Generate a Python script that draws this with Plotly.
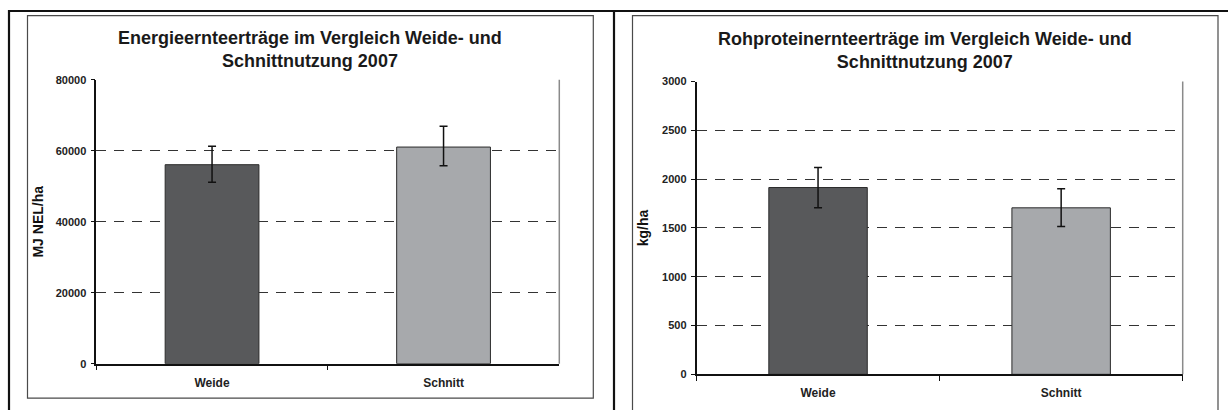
import plotly.graph_objects as go

W, H = 1228, 410

# ---------------- data ----------------
categories = ["Weide", "Schnitt"]
energy_values = [56080, 61050]
energy_err_plus = [5200, 5850]
energy_err_minus = [4970, 5280]
protein_values = [1914, 1706]
protein_err_plus = [205, 195]
protein_err_minus = [208, 192]
energy_ticks = [0, 20000, 40000, 60000, 80000]
protein_ticks = [0, 500, 1000, 1500, 2000, 2500, 3000]
bar_colors = ["#58595b", "#a7a9ac"]

title_left = "Energieernteerträge im Vergleich Weide- und<br>Schnittnutzung 2007"
title_right = "Rohproteinernteerträge im Vergleich Weide- und<br>Schnittnutzung 2007"

FONT = "Liberation Sans, Arial, sans-serif"

# the captured picture maps page y to about 6 + 0.973*y; compensate
Y_OFF, Y_SCALE = 6.0, 0.973


def px_x(x):
    return x / W


def px_y(y):
    return 1 - ((y - Y_OFF) / Y_SCALE) / H


fig = go.Figure()

fig.add_trace(go.Bar(
    x=categories, y=energy_values, xaxis="x", yaxis="y",
    marker=dict(color=bar_colors, line=dict(color="#2b2b2b", width=1)),
    error_y=dict(type="data", symmetric=False, array=energy_err_plus,
                 arrayminus=energy_err_minus, color="#111111", thickness=1.5, width=4),
    showlegend=False, hoverinfo="x+y",
))
fig.add_trace(go.Bar(
    x=categories, y=protein_values, xaxis="x2", yaxis="y2",
    marker=dict(color=bar_colors, line=dict(color="#2b2b2b", width=1)),
    error_y=dict(type="data", symmetric=False, array=protein_err_plus,
                 arrayminus=protein_err_minus, color="#111111", thickness=1.5, width=4),
    showlegend=False, hoverinfo="x+y",
))

tickfont = dict(family=FONT, size=11, color="#222222", weight="bold")
catfont = dict(family=FONT, size=12, color="#222222", weight="bold")
titlefont = dict(family=FONT, size=14, color="#111111", weight="bold")

common_x = dict(showline=True, linecolor="#111111", linewidth=1.5, ticks="outside",
                tickson="boundaries", ticklen=5, tickcolor="#111111", tickwidth=1,
                showgrid=False, tickfont=catfont, ticklabelstandoff=7, fixedrange=True)
common_y = dict(showline=True, linecolor="#111111", linewidth=1.5, ticks="outside",
                ticklen=4, tickcolor="#111111", tickwidth=1, showgrid=True,
                gridcolor="#333333", gridwidth=1.2, griddash="10px,8px", zeroline=False,
                tickfont=tickfont, ticklabelstandoff=2, tickformat="d", fixedrange=True)

# plot areas (pixel positions in the reference)
L = dict(x0=96.3, x1=559.3, y0=80.0, y1=364.5)
R = dict(x0=696.5, x1=1182.7, y0=81.7, y1=375.2)

fig.update_layout(
    width=W, height=H,
    margin=dict(l=0, r=0, t=0, b=0),
    paper_bgcolor="white", plot_bgcolor="white",
    bargap=0.595,
    xaxis=dict(domain=[px_x(L["x0"]), px_x(L["x1"])], anchor="y", **common_x),
    yaxis=dict(domain=[px_y(L["y1"]), px_y(L["y0"])], anchor="x",
               range=[0, 80000], tickvals=energy_ticks,
               title=dict(text="MJ NEL/ha", font=titlefont, standoff=9), **common_y),
    xaxis2=dict(domain=[px_x(R["x0"]), px_x(R["x1"])], anchor="y2", **common_x),
    yaxis2=dict(domain=[px_y(R["y1"]), px_y(R["y0"])], anchor="x2",
                range=[0, 3000], tickvals=protein_ticks,
                title=dict(text="kg/ha", font=titlefont, standoff=10), **common_y),
)

shapes = []
# outer black frame
shapes.append(dict(type="line", xref="paper", yref="paper", x0=px_x(8), x1=px_x(1228),
                   y0=px_y(11), y1=px_y(11), line=dict(color="#111111", width=2.2)))
for xx in (9, 614):
    shapes.append(dict(type="line", xref="paper", yref="paper", x0=px_x(xx), x1=px_x(xx),
                       y0=px_y(10), y1=px_y(420), line=dict(color="#111111", width=2.2)))
# inner chart frames
shapes.append(dict(type="rect", xref="paper", yref="paper", x0=px_x(27.5), x1=px_x(593.3),
                   y0=px_y(399), y1=px_y(15.7), line=dict(color="#4a4a4a", width=1.2)))
shapes.append(dict(type="rect", xref="paper", yref="paper", x0=px_x(632.5), x1=px_x(1218),
                   y0=px_y(425), y1=px_y(15.7), line=dict(color="#4a4a4a", width=1.2)))
# right border of plot areas (gray)
for xr, yr in (("x", "y"), ("x2", "y2")):
    shapes.append(dict(type="line", xref=f"{xr} domain", yref=f"{yr} domain",
                       x0=1, x1=1, y0=0, y1=1, line=dict(color="#8a8a8a", width=1.5)))
fig.update_layout(shapes=shapes)

ann_font = dict(family=FONT, size=18, color="#1a1a1a", weight="bold")
fig.add_annotation(text=title_left, xref="paper", yref="paper", x=px_x(310.4), y=px_y(49.7),
                   xanchor="center", yanchor="middle", showarrow=False, font=ann_font)
fig.add_annotation(text=title_right, xref="paper", yref="paper", x=px_x(925.2), y=px_y(51.0),
                   xanchor="center", yanchor="middle", showarrow=False, font=ann_font)

page_css = (
    "var s=document.createElement('style');"
    "s.textContent='html,body{margin:0!important;padding:0!important;overflow:hidden!important;}';"
    "document.head.appendChild(s);"
)

fig.write_html(
    "out.html",
    config={"displayModeBar": False},
    post_script=page_css,
)
